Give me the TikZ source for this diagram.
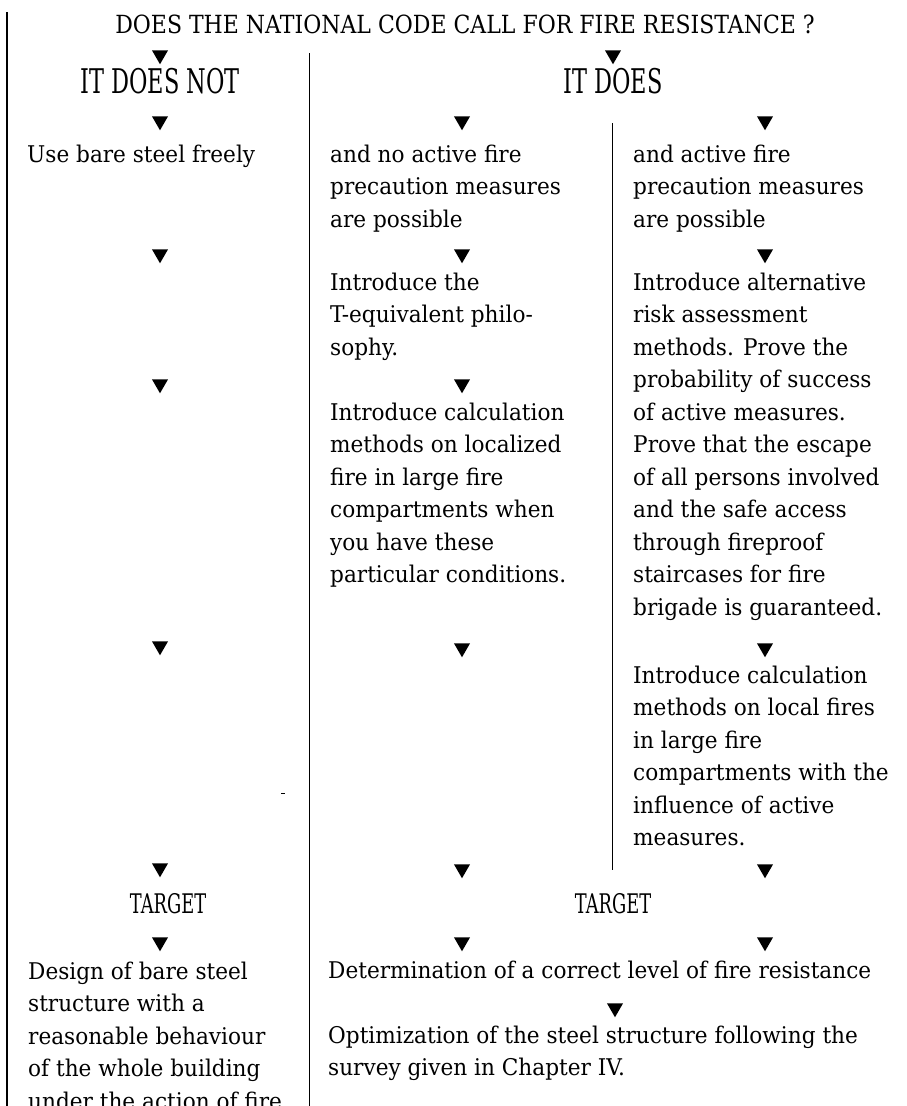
\documentclass[tikz,border=0pt]{standalone}
\usepackage{fontspec}
\usepackage{tikz}
\usetikzlibrary{shapes.geometric}
\setmainfont{DejaVu Serif}
\newfontfamily\bodyfont[FakeStretch=0.94]{DejaVu Serif}
\newfontfamily\capsfont[FakeStretch=0.66]{DejaVu Serif}
\newfontfamily\titlefont[FakeStretch=0.88]{DejaVu Serif}

\tikzset{
	txt/.style={anchor=base west, align=left, inner sep=0pt,
		font=\bodyfont\fontsize{23}{32.5}\selectfont},
	head/.style={anchor=base, inner sep=0pt,
		font=\capsfont\fontsize{34}{34}\selectfont},
	tip/.style={regular polygon, regular polygon sides=3, shape border rotate=180,
		fill=black, inner sep=0pt, minimum size=18.5pt},
	rule/.style={black, line width=1pt},
}

\begin{document}
\begin{tikzpicture}[x=1pt,y=-1pt]
			\useasboundingbox (0,0) rectangle (906,1106);
			\draw [rule,line width=1.4pt] (7,12) -- (7,1106);
			\draw [rule] (309,53) -- (309,1106);
			\draw [rule] (612,123) -- (612,870);
			\draw [line width=1pt] (281,793) -- (285,793);
			\node (title) [head,font=\titlefont\fontsize{25}{25}\selectfont] at (465,33) {DOES THE NATIONAL CODE CALL FOR FIRE RESISTANCE ?};
			\node (t1) [tip] at (160,55) {};
			\node (t2) [tip] at (613,55) {};
			\node (no) [head] at (160,93) {IT DOES NOT};
			\node (yes) [head] at (613,93) {IT DOES};
			\node (t3) [tip] at (160,121) {};
			\node (t4) [tip] at (462,121) {};
			\node (t5) [tip] at (765,121) {};
			% multi-line texts sit on the baseline of their last line
			\node (bare) [txt] at (27,162) {Use bare steel freely};
			\node (noact) [txt] at (330,227) {and no active fire\\precaution measures\\are possible};
			\node (act) [txt] at (633,227) {and active fire\\precaution measures\\are possible};
			\node (t6) [tip] at (160,254) {};
			\node (t7) [tip] at (462,254) {};
			\node (t8) [tip] at (765,254) {};
			\node (teq) [txt] at (330,355) {Introduce the\\T-equivalent philo-\\sophy.};
			\node (risk) [txt] at (633,615) {Introduce alternative\\risk assessment\\methods. Prove the\\probability of success\\of active measures.\\Prove that the escape\\of all persons involved\\and the safe access\\through fireproof\\staircases for fire\\brigade is guaranteed.};
			\node (t9) [tip] at (160,384) {};
			\node (t10) [tip] at (462,384) {};
			\node (calc) [txt] at (330,582.5) {Introduce calculation\\methods on localized\\fire in large fire\\compartments when\\you have these\\particular conditions.};
			\node (t11) [tip] at (160,646) {};
			\node (t12) [tip] at (462,648) {};
			\node (t13) [tip] at (765,648) {};
			\node (local) [txt] at (633,845.5) {Introduce calculation\\methods on local fires\\in large fire\\compartments with the\\influence of active\\measures.};
			\node (t14) [tip] at (160,868) {};
			\node (t15) [tip] at (462,869) {};
			\node (t16) [tip] at (765,869) {};
			\node (goal1) [head,font=\capsfont\fontsize{27}{27}\selectfont] at (168,913) {TARGET};
			\node (goal2) [head,font=\capsfont\fontsize{27}{27}\selectfont] at (613,913) {TARGET};
			\node (t17) [tip] at (160,942) {};
			\node (t18) [tip] at (462,942) {};
			\node (t19) [tip] at (765,942) {};
			\node (design) [txt] at (28,1109) {Design of bare steel\\structure with a\\reasonable behaviour\\of the whole building\\under the action of fire.};
			\node (level) [txt] at (328,978) {Determination of a correct level of fire resistance};
			\node (t20) [tip] at (615,1008) {};
			\node (optim) [txt] at (328,1075.5) {Optimization of the steel structure following the\\survey given in Chapter IV.};
\end{tikzpicture}
\end{document}
